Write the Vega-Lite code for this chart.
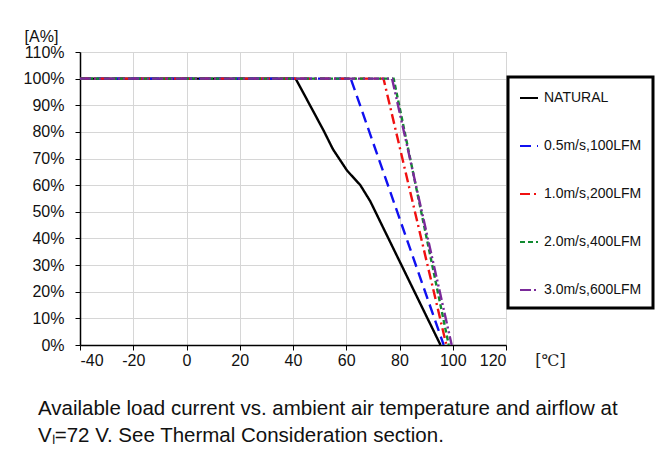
{
  "$schema": "https://vega.github.io/schema/vega-lite/v6.json",
  "width": 426,
  "height": 293,
  "autosize": {"type": "none"},
  "padding": {"left": 80, "top": 52, "right": 153, "bottom": 127},
  "background": "white",
  "title": {
    "text": ["Available load current vs. ambient air temperature and airflow at", "Vₗ=72 V. See Thermal Consideration section."],
    "orient": "bottom",
    "anchor": "start",
    "frame": "group",
    "dx": -42,
    "offset": 31,
    "font": "Liberation Sans",
    "fontSize": 20.5,
    "fontWeight": "normal",
    "color": "#111",
    "lineHeight": 27
  },
  "data": {
    "values": [
      {"s": "NATURAL", "t": -40, "a": 100},
      {"s": "NATURAL", "t": 41, "a": 100},
      {"s": "NATURAL", "t": 51.5, "a": 80.5},
      {"s": "NATURAL", "t": 55, "a": 73.5},
      {"s": "NATURAL", "t": 60.3, "a": 65.5},
      {"s": "NATURAL", "t": 65.3, "a": 60},
      {"s": "NATURAL", "t": 69, "a": 54},
      {"s": "NATURAL", "t": 95.4, "a": 0},
      {"s": "0.5m/s,100LFM", "t": -40, "a": 100},
      {"s": "0.5m/s,100LFM", "t": 61.7, "a": 100},
      {"s": "0.5m/s,100LFM", "t": 96.6, "a": 0},
      {"s": "1.0m/s,200LFM", "t": -40, "a": 100},
      {"s": "1.0m/s,200LFM", "t": 74, "a": 100},
      {"s": "1.0m/s,200LFM", "t": 97.6, "a": 0},
      {"s": "2.0m/s,400LFM", "t": -40, "a": 100},
      {"s": "2.0m/s,400LFM", "t": 77.8, "a": 100},
      {"s": "2.0m/s,400LFM", "t": 98.5, "a": 0},
      {"s": "3.0m/s,600LFM", "t": -40, "a": 100},
      {"s": "3.0m/s,600LFM", "t": 77.2, "a": 100},
      {"s": "3.0m/s,600LFM", "t": 99.6, "a": 0}
    ]
  },
  "mark": {"type": "line", "strokeWidth": 2.4, "clip": true},
  "encoding": {
    "x": {
      "field": "t", "type": "quantitative",
      "scale": {"domain": [-40, 120], "nice": false, "zero": false},
      "axis": {
        "values": [-40, -20, 0, 20, 40, 60, 80, 100, 120],
        "labelExpr": "'' + datum.value",
        "title": "[℃]",
        "titleFont": "DejaVu Serif",
        "titleFontSize": 16,
        "titleFontWeight": "normal",
        "titleColor": "#222",
        "titleAngle": 0,
        "titleAlign": "center",
        "titleBaseline": "middle",
        "titleX": 470,
        "titleY": 15,
        "labelFont": "Liberation Sans",
        "labelFontSize": 16,
        "labelColor": "#111",
        "labelPadding": 2,
        "tickSize": 5,
        "tickColor": "#000",
        "domainColor": "#000",
        "domainWidth": 1.5,
        "grid": true,
        "gridColor": "#d6d6d6"
      }
    },
    "y": {
      "field": "a", "type": "quantitative",
      "scale": {"domain": [0, 110], "nice": false},
      "axis": {
        "values": [0, 10, 20, 30, 40, 50, 60, 70, 80, 90, 100, 110],
        "labelExpr": "datum.value + '%'",
        "title": "[A%]",
        "titleFont": "Liberation Sans",
        "titleFontSize": 16,
        "titleFontWeight": "normal",
        "titleColor": "#111",
        "titleAngle": 0,
        "titleAlign": "center",
        "titleBaseline": "middle",
        "titleX": -39,
        "titleY": -16,
        "labelFont": "Liberation Sans",
        "labelFontSize": 16,
        "labelColor": "#111",
        "labelPadding": 11,
        "tickSize": 5,
        "tickColor": "#000",
        "domainColor": "#000",
        "domainWidth": 1.5,
        "grid": true,
        "gridColor": "#d6d6d6"
      }
    },
    "color": {
      "field": "s", "type": "nominal",
      "scale": {
        "domain": ["NATURAL", "0.5m/s,100LFM", "1.0m/s,200LFM", "2.0m/s,400LFM", "3.0m/s,600LFM"],
        "range": ["#000000", "#1010f0", "#f01010", "#108a30", "#7a2a9a"]
      },
      "legend": {
        "title": null,
        "orient": "none",
        "legendX": 428,
        "legendY": 25,
        "padding": 11,
        "strokeColor": "#000",
        "fillColor": "#fff",
        "symbolType": "stroke",
        "symbolSize": 324,
        "symbolStrokeWidth": 2,
        "labelFont": "Liberation Sans",
        "labelFontSize": 14,
        "labelColor": "#111",
        "labelOffset": 5,
        "rowPadding": 31,
        "encode": {"legend": {"update": {"strokeWidth": {"value": 3}}}}
      }
    },
    "strokeDash": {
      "field": "s", "type": "nominal",
      "scale": {
        "domain": ["NATURAL", "0.5m/s,100LFM", "1.0m/s,200LFM", "2.0m/s,400LFM", "3.0m/s,600LFM"],
        "range": [[1, 0], [11, 6], [10, 4, 2, 4], [5, 3], [11, 3, 2, 3, 2, 3]]
      },
      "legend": null
    },
    "order": {"field": "t", "type": "quantitative"}
  },
  "config": {
    "view": {"stroke": "#888", "strokeWidth": 1}
  }
}
